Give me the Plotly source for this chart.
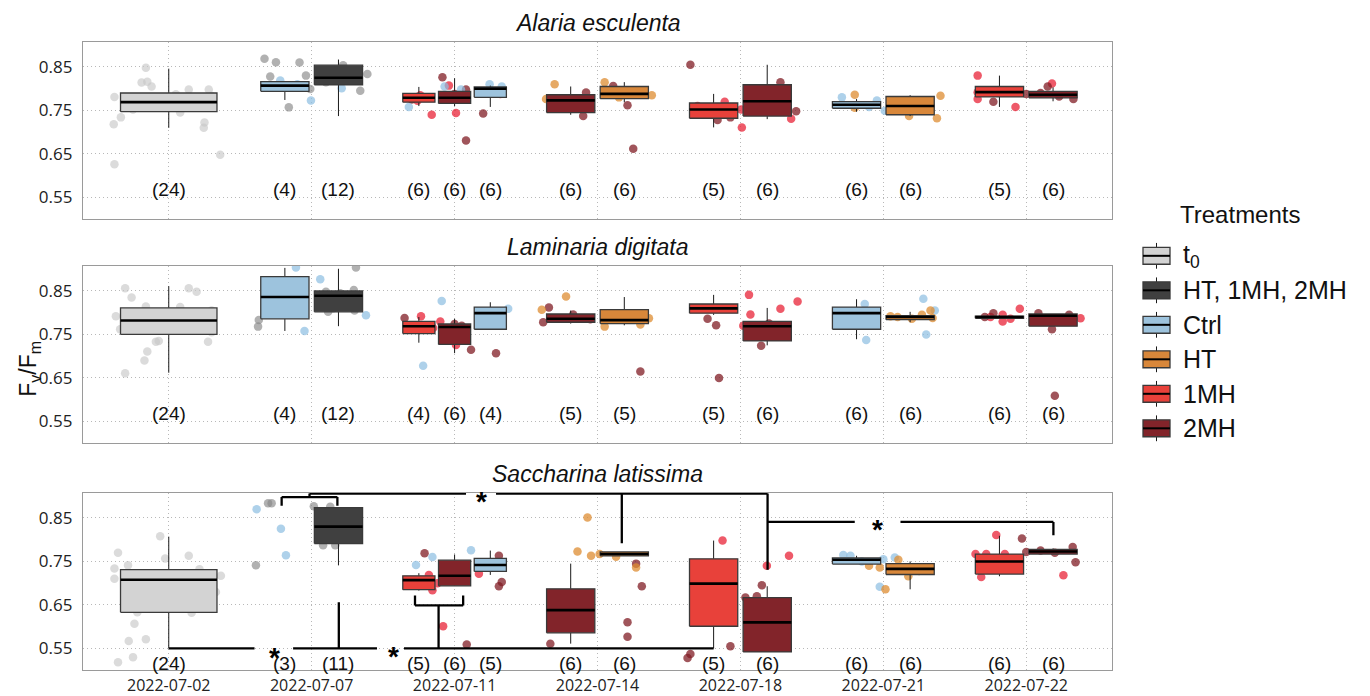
import plotly.graph_objects as go

# ---------------- data ----------------
dates = ["2022-07-02", "2022-07-07", "2022-07-11", "2022-07-14",
         "2022-07-18", "2022-07-21", "2022-07-22"]
trt_names = ["t0", "HT, 1MH, 2MH", "Ctrl", "HT", "1MH", "2MH"]
trt_labels = ["t<sub>0</sub>", "HT, 1MH, 2MH", "Ctrl", "HT", "1MH", "2MH"]
species = ["Alaria esculenta", "Laminaria digitata", "Saccharina latissima"]

# box order (date index, treatment) – same for all species
box_date = [0, 1, 1, 2, 2, 2, 3, 3, 4, 4, 5, 5, 6, 6]
box_trt = ["t0", "Ctrl", "HT, 1MH, 2MH", "1MH", "2MH", "Ctrl", "2MH", "HT",
           "1MH", "2MH", "Ctrl", "HT", "1MH", "2MH"]

# Alaria esculenta
ae_lower = [0.710, 0.774, 0.737, 0.760, 0.760, 0.758, 0.740, 0.769, 0.711, 0.730, 0.747, 0.737, 0.758, 0.771]
ae_q1 = [0.747, 0.794, 0.809, 0.769, 0.766, 0.780, 0.745, 0.777, 0.732, 0.737, 0.755, 0.740, 0.781, 0.779]
ae_med = [0.769, 0.807, 0.825, 0.779, 0.779, 0.800, 0.773, 0.788, 0.752, 0.771, 0.763, 0.760, 0.792, 0.786]
ae_q3 = [0.790, 0.816, 0.854, 0.789, 0.794, 0.804, 0.786, 0.805, 0.767, 0.809, 0.770, 0.782, 0.805, 0.794]
ae_upper = [0.846, 0.816, 0.867, 0.804, 0.824, 0.807, 0.805, 0.815, 0.788, 0.855, 0.776, 0.785, 0.830, 0.803]
ae_n = [24, 4, 12, 6, 6, 6, 6, 6, 5, 6, 6, 6, 5, 6]
ae_pts = [
    [0.718, 0.781, 0.734, 0.626, 0.848, 0.814, 0.816, 0.805, 0.745, 0.798, 0.798, 0.722, 0.710, 0.648,
     0.752, 0.760, 0.765, 0.770, 0.775, 0.779, 0.783, 0.787, 0.757, 0.768],
    [0.819, 0.773, 0.801, 0.810],
    [0.869, 0.861, 0.860, 0.828, 0.830, 0.757, 0.799, 0.834, 0.795, 0.854, 0.840, 0.815],
    [0.740, 0.807, 0.744, 0.772, 0.785, 0.788],
    [0.826, 0.681, 0.743, 0.798, 0.775, 0.788],
    [0.758, 0.805, 0.810, 0.805, 0.798, 0.795],
    [0.791, 0.737, 0.806, 0.762, 0.662, 0.775],
    [0.810, 0.776, 0.815, 0.785, 0.795, 0.780],
    [0.770, 0.711, 0.731, 0.752, 0.760],
    [0.855, 0.728, 0.734, 0.815, 0.748, 0.775],
    [0.780, 0.773, 0.749, 0.762, 0.766, 0.758],
    [0.786, 0.756, 0.737, 0.784, 0.732, 0.762],
    [0.830, 0.792, 0.776, 0.758, 0.812],
    [0.770, 0.805, 0.782, 0.776, 0.788, 0.790],
]

# Laminaria digitata
ld_lower = [0.662, 0.758, 0.769, 0.731, 0.707, 0.762, 0.775, 0.771, 0.795, 0.725, 0.739, 0.778, 0.786, 0.769]
ld_q1 = [0.750, 0.786, 0.802, 0.752, 0.727, 0.762, 0.778, 0.775, 0.799, 0.735, 0.762, 0.784, 0.787, 0.769]
ld_med = [0.782, 0.836, 0.839, 0.769, 0.767, 0.799, 0.786, 0.783, 0.810, 0.769, 0.799, 0.790, 0.790, 0.793]
ld_q3 = [0.811, 0.883, 0.850, 0.780, 0.774, 0.813, 0.797, 0.807, 0.820, 0.780, 0.813, 0.793, 0.792, 0.797]
ld_upper = [0.861, 0.903, 0.901, 0.790, 0.786, 0.824, 0.805, 0.836, 0.841, 0.811, 0.831, 0.802, 0.794, 0.797]
ld_n = [24, 4, 12, 4, 6, 4, 5, 5, 5, 6, 6, 6, 6, 6]
ld_pts = [
    [0.856, 0.835, 0.792, 0.762, 0.814, 0.733, 0.711, 0.690, 0.661, 0.856, 0.848, 0.733, 0.813, 0.735,
     0.755, 0.760, 0.768, 0.775, 0.780, 0.785, 0.790, 0.795, 0.800, 0.805],
    [0.904, 0.877, 0.758, 0.794],
    [0.783, 0.768, 0.904, 0.852, 0.802, 0.845, 0.835, 0.820, 0.810, 0.840, 0.805, 0.848],
    [0.792, 0.780, 0.726, 0.765],
    [0.788, 0.715, 0.707, 0.770, 0.760, 0.774],
    [0.827, 0.678, 0.809, 0.790],
    [0.812, 0.778, 0.665, 0.796, 0.785],
    [0.837, 0.807, 0.768, 0.773, 0.787],
    [0.841, 0.796, 0.809, 0.826, 0.770],
    [0.786, 0.771, 0.650, 0.724, 0.760, 0.775],
    [0.820, 0.737, 0.832, 0.805, 0.750, 0.800],
    [0.805, 0.788, 0.795, 0.790, 0.786, 0.792],
    [0.795, 0.780, 0.786, 0.809, 0.787, 0.790],
    [0.799, 0.790, 0.762, 0.609, 0.799, 0.795],
]

# Saccharina latissima (no box drawn for Ctrl on 2022-07-07)
sl_lower = [0.550, None, 0.741, 0.683, 0.694, 0.719, 0.561, 0.763, 0.550, 0.542, 0.744, 0.686, 0.716, 0.767]
sl_q1 = [0.633, None, 0.791, 0.685, 0.694, 0.727, 0.586, 0.763, 0.601, 0.542, 0.744, 0.720, 0.721, 0.767]
sl_med = [0.708, None, 0.830, 0.707, 0.717, 0.742, 0.638, 0.767, 0.699, 0.610, 0.754, 0.733, 0.750, 0.773]
sl_q3 = [0.731, None, 0.874, 0.717, 0.753, 0.757, 0.687, 0.772, 0.756, 0.667, 0.758, 0.745, 0.767, 0.778]
sl_upper = [0.807, None, 0.874, 0.723, 0.766, 0.775, 0.745, 0.772, 0.798, 0.693, 0.763, 0.750, 0.809, 0.780]
sl_n = [24, 3, 11, 5, 6, 5, 6, 6, 5, 6, 6, 6, 6, 6]
sl_pts = [
    [0.770, 0.741, 0.734, 0.710, 0.808, 0.757, 0.763, 0.732, 0.717, 0.633, 0.607, 0.567, 0.571, 0.530,
     0.518, 0.632, 0.645, 0.660, 0.675, 0.690, 0.700, 0.715, 0.722, 0.680],
    [0.870, 0.825, 0.764],
    [0.741, 0.884, 0.884, 0.787, 0.787, 0.877, 0.876, 0.850, 0.835, 0.810, 0.800],
    [0.719, 0.684, 0.601, 0.722, 0.700],
    [0.769, 0.559, 0.693, 0.703, 0.763, 0.730],
    [0.742, 0.760, 0.776, 0.718, 0.745],
    [0.561, 0.610, 0.577, 0.693, 0.745, 0.640],
    [0.851, 0.773, 0.763, 0.767, 0.761, 0.736],
    [0.798, 0.763, 0.740, 0.700, 0.650],
    [0.528, 0.537, 0.555, 0.695, 0.670, 0.667],
    [0.765, 0.763, 0.759, 0.692, 0.755, 0.750],
    [0.736, 0.686, 0.754, 0.716, 0.728, 0.740],
    [0.811, 0.714, 0.767, 0.767, 0.767, 0.718],
    [0.803, 0.783, 0.748, 0.775, 0.770, 0.772],
]

# ---------------- positions / styles (not data) ----------------
# horizontal jitter of each point around its date tick (category units)
ae_jit = [
    [-0.385, -0.38, -0.335, -0.38, -0.16, -0.19, -0.15, -0.12, 0.08, 0.14, 0.28, 0.25, 0.245, 0.36,
     -0.25, -0.1, 0.0, 0.1, 0.2, -0.3, 0.3, 0.05, 0.18, -0.05],
    [-0.22, -0.005, 0.21, -0.1],
    [-0.33, -0.25, -0.085, -0.29, -0.04, -0.16, -0.01, 0.39, 0.34, 0.22, 0.15, 0.1],
    [-0.16, -0.04, 0.01, -0.26, -0.24, 0.32],
    [-0.085, 0.08, 0.2, 0.08, -0.3, 0.0],
    [-0.32, -0.07, 0.245, 0.33, 0.045, 0.26],
    [-0.08, -0.1, 0.11, 0.21, 0.25, -0.3],
    [-0.30, -0.36, 0.05, 0.38, 0.2, 0.15],
    [-0.11, 0.01, 0.355, 0.005, -0.3],
    [-0.35, -0.16, -0.07, 0.28, 0.39, 0.15],
    [-0.29, -0.045, 0.01, -0.2, 0.2, -0.1],
    [-0.2, -0.2, 0.18, 0.40, 0.375, 0.1],
    [-0.34, -0.34, -0.34, -0.075, 0.18],
    [-0.23, 0.15, 0.23, 0.33, 0.0, 0.1],
]
ld_jit = [
    [-0.305, -0.26, -0.37, -0.34, -0.16, -0.09, -0.15, -0.17, -0.305, 0.14, 0.195, 0.275, 0.08, -0.07,
     0.3, -0.2, 0.1, -0.05, 0.25, -0.3, 0.0, 0.2, -0.1, 0.3],
    [-0.11, 0.06, -0.05, 0.38],
    [-0.37, -0.375, 0.31, 0.295, 0.115, 0.2, 0.12, 0.25, 0.15, 0.05, 0.3, 0.1],
    [-0.235, -0.1, 0.01, -0.15],
    [-0.35, 0.115, 0.29, 0.05, -0.05, 0.0],
    [-0.09, -0.22, 0.375, 0.3],
    [-0.34, -0.38, 0.30, -0.17, -0.05],
    [-0.22, -0.39, 0.05, 0.30, 0.36],
    [0.06, 0.07, 0.28, 0.40, 0.02],
    [-0.23, -0.17, -0.15, 0.145, 0.1, 0.2],
    [-0.13, -0.12, 0.28, 0.36, 0.30, -0.1],
    [0.33, 0.345, 0.27, 0.1, 0.2, 0.05],
    [-0.165, -0.165, -0.11, -0.045, 0.38, -0.25],
    [-0.23, -0.29, 0.18, 0.20, 0.085, 0.3],
]
sl_jit = [
    [-0.355, -0.285, -0.38, -0.38, -0.06, -0.025, 0.14, 0.215, 0.365, -0.22, -0.24, -0.28, -0.16, -0.25,
     -0.355, 0.16, -0.1, 0.3, 0.05, -0.3, 0.2, -0.15, 0.1, 0.33],
    [-0.385, -0.215, -0.18],
    [-0.39, -0.305, -0.28, 0.08, 0.165, 0.015, 0.13, 0.1, 0.2, 0.05, 0.15],
    [-0.18, -0.155, -0.08, 0.17, -0.12],
    [-0.21, 0.085, 0.31, 0.33, 0.31, 0.0],
    [-0.27, -0.155, 0.115, -0.02, 0.25],
    [-0.33, 0.21, 0.21, 0.31, 0.27, -0.1],
    [-0.07, -0.14, -0.045, 0.015, 0.13, 0.27],
    [-0.125, 0.34, 0.185, -0.15, -0.2],
    [-0.37, -0.35, -0.07, 0.15, 0.115, 0.035],
    [-0.28, -0.23, 0.08, -0.025, 0.0, -0.15],
    [-0.025, 0.015, 0.105, 0.175, 0.25, -0.1],
    [-0.21, -0.315, -0.355, -0.28, -0.15, 0.26],
    [-0.03, 0.325, 0.345, 0.1, 0.2, 0.0],
]

# significance brackets on the Saccharina panel (x in category units, y in Fv/Fm)
sig_segments = [
    (0.79, 0.878, 0.79, 0.898), (0.79, 0.898, 1.18, 0.898), (1.18, 0.898, 1.18, 0.878),
    (0.985, 0.898, 0.985, 0.906),
    (0.985, 0.906, 2.08, 0.906), (2.29, 0.906, 4.19, 0.906),
    (3.17, 0.906, 3.17, 0.792),
    (4.19, 0.906, 4.19, 0.731),
    (4.19, 0.841, 4.80, 0.841), (5.12, 0.841, 6.19, 0.841), (6.19, 0.841, 6.19, 0.810),
    (0.0, 0.550, 0.60, 0.550), (0.87, 0.550, 1.457, 0.550), (1.646, 0.550, 3.8125, 0.550),
    (1.19, 0.656, 1.19, 0.550),
    (1.888, 0.649, 1.888, 0.550),
    (1.723, 0.649, 2.06, 0.649), (1.723, 0.649, 1.723, 0.672), (2.06, 0.649, 2.06, 0.672),
]
sig_stars = [(0.737, 0.548), (1.57, 0.550), (2.185, 0.906), (4.956, 0.841)]

FILL = {"t0": "#D3D3D3", "HT, 1MH, 2MH": "#404040", "Ctrl": "#9DC3DD",
        "HT": "#D8873A", "1MH": "#E8413A", "2MH": "#82242A"}
PTCOL = {"t0": "rgba(200,200,200,0.65)", "HT, 1MH, 2MH": "rgba(135,135,135,0.65)",
         "Ctrl": "rgba(140,190,225,0.7)", "HT": "rgba(222,140,50,0.75)",
         "1MH": "rgba(232,35,55,0.75)", "2MH": "rgba(128,28,36,0.75)"}

# page pixel geometry (the html body adds an 8px margin)
OFF = 8
W, H = 1362, 688
X0, X1 = 83, 1112
panel_px = [(42, 221), (268, 447), (497, 676)]
YR = [0.50, 0.908]
n_label_y = [0.568, 0.569, 0.516]


def px(x):
    return (x - OFF) / W


def py(y):
    return 1 - (y - OFF) / H


# dodge positions (ggplot-like)
counts = {d: box_date.count(d) for d in set(box_date)}
centers, widths, seen = [], [], {}
for d in box_date:
    k = counts[d]
    j = seen.get(d, 0)
    seen[d] = j + 1
    slot = 0.75 / k
    centers.append(d - 0.375 + slot * (j + 0.5))
    widths.append(0.9 * slot)

fig = go.Figure()
annotations = []
panels = [
    (ae_lower, ae_q1, ae_med, ae_q3, ae_upper, ae_n, ae_pts, ae_jit),
    (ld_lower, ld_q1, ld_med, ld_q3, ld_upper, ld_n, ld_pts, ld_jit),
    (sl_lower, sl_q1, sl_med, sl_q3, sl_upper, sl_n, sl_pts, sl_jit),
]
TXT = "Liberation Sans"

for p, (lo, q1, med, q3, hi, nn, pts, jit) in enumerate(panels):
    s = "" if p == 0 else str(p + 1)
    xa, ya = "x" + s, "y" + s
    # points first (beneath boxes)
    for b in range(len(box_date)):
        t = box_trt[b]
        fig.add_trace(go.Scatter(
            x=[box_date[b] + o for o in jit[b]], y=pts[b], mode="markers",
            marker=dict(size=8.5, color=PTCOL[t], line=dict(width=0)),
            xaxis=xa, yaxis=ya, showlegend=False, hoverinfo="y"))
    # boxes
    for b in range(len(box_date)):
        if q1[b] is None:
            continue
        t = box_trt[b]
        c, w = centers[b], widths[b]
        l, r = c - w / 2, c + w / 2
        fig.add_trace(go.Scatter(
            x=[c, c, None, c, c], y=[lo[b], q1[b], None, q3[b], hi[b]], mode="lines",
            line=dict(color="#1a1a1a", width=1), xaxis=xa, yaxis=ya,
            showlegend=False, hoverinfo="skip"))
        fig.add_trace(go.Scatter(
            x=[l, r, r, l, l], y=[q1[b], q1[b], q3[b], q3[b], q1[b]], mode="lines",
            fill="toself", fillcolor=FILL[t], line=dict(color="#3a3a3a", width=1.3),
            xaxis=xa, yaxis=ya, showlegend=False, hoverinfo="skip"))
        fig.add_trace(go.Scatter(
            x=[l, r], y=[med[b], med[b]], mode="lines",
            line=dict(color="black", width=2.6), xaxis=xa, yaxis=ya,
            showlegend=False, hoverinfo="skip"))
    # n labels
    for b in range(len(box_date)):
        annotations.append(dict(
            x=centers[b], y=n_label_y[p], xref=xa, yref=ya, text="(%d)" % nn[b],
            showarrow=False, xanchor="center", yanchor="middle",
            font=dict(size=19, color="#111", family=TXT)))
    # species title
    top_px = panel_px[p][0]
    annotations.append(dict(
        x=px((X0 + X1) / 2), y=py(top_px - 19), xref="paper", yref="paper",
        text="<i>%s</i>" % species[p], showarrow=False, xanchor="center", yanchor="middle",
        font=dict(size=23, color="#111", family=TXT)))

# significance brackets (Saccharina panel)
bx, by = [], []
for (xa0, ya0, xa1, ya1) in sig_segments:
    bx += [xa0, xa1, None]
    by += [ya0, ya1, None]
fig.add_trace(go.Scatter(x=bx, y=by, mode="lines", line=dict(color="black", width=2.3),
                         xaxis="x3", yaxis="y3", showlegend=False, hoverinfo="skip"))
for (sx, sy) in sig_stars:
    annotations.append(dict(x=sx, y=sy, xref="x3", yref="y3", text="<b>*</b>",
                            showarrow=False, yshift=-8, xanchor="center", yanchor="middle",
                            font=dict(size=28, color="black", family=TXT)))

# y-axis title
annotations.append(dict(x=px(30), y=py(372), xref="paper", yref="paper",
                        text="F<sub>v</sub>/F<sub>m</sub>", textangle=-90, showarrow=False,
                        xanchor="center", yanchor="middle",
                        font=dict(size=23, color="#111", family=TXT)))

# manual legend
shapes = []
annotations.append(dict(x=px(1178), y=py(216), xref="paper", yref="paper",
                        text="Treatments", showarrow=False, xanchor="left", yanchor="middle",
                        font=dict(size=24, color="#111", family=TXT)))
for k, t in enumerate(trt_names):
    cy = 258 + 34.8 * k
    xl, xr = px(1143), px(1170)
    xc = px((1143 + 1170) / 2)
    shapes.append(dict(type="line", xref="paper", yref="paper", x0=xc, x1=xc,
                       y0=py(cy - 13), y1=py(cy + 13),
                       line=dict(color="#1a1a1a", width=1)))
    shapes.append(dict(type="rect", xref="paper", yref="paper", x0=xl, x1=xr,
                       y0=py(cy + 8.5), y1=py(cy - 8.5),
                       fillcolor=FILL[t], line=dict(color="#3a3a3a", width=1.3)))
    shapes.append(dict(type="line", xref="paper", yref="paper", x0=xl, x1=xr,
                       y0=py(cy), y1=py(cy), line=dict(color="black", width=2)))
    annotations.append(dict(x=px(1181), y=py(cy), xref="paper", yref="paper",
                            text=trt_labels[k], showarrow=False, xanchor="left",
                            yanchor="middle",
                            font=dict(size=25, color="#111", family=TXT)))

layout = dict(
    width=W, height=H, margin=dict(l=0, r=0, t=0, b=0),
    paper_bgcolor="white", plot_bgcolor="white", showlegend=False,
    annotations=annotations, shapes=shapes,
)
GRID = dict(showgrid=True, gridcolor="#b8b8b8", griddash="1px,3px", gridwidth=1,
            zeroline=False, showline=True, mirror=True, linecolor="#9a9a9a", linewidth=1.2,
            ticks="")
for p in range(3):
    s = "" if p == 0 else str(p + 1)
    top, bot = panel_px[p]
    layout["xaxis" + s] = dict(
        domain=[px(X0), px(X1)], anchor="y" + s, range=[-0.6, 6.6],
        tickmode="array", tickvals=list(range(len(dates))), ticktext=dates,
        showticklabels=(p == 2), ticklabelstandoff=1,
        tickfont=dict(size=16, color="#222", family="Open Sans"), **GRID)
    layout["yaxis" + s] = dict(
        domain=[py(bot), py(top)], anchor="x" + s, range=YR,
        tickmode="array", tickvals=[0.55, 0.65, 0.75, 0.85],
        ticktext=["0.55", "0.65", "0.75", "0.85"], ticklabelstandoff=6,
        tickfont=dict(size=17, color="#222", family="Open Sans"), **GRID)

fig.update_layout(**layout)
fig.write_html("out.html")
